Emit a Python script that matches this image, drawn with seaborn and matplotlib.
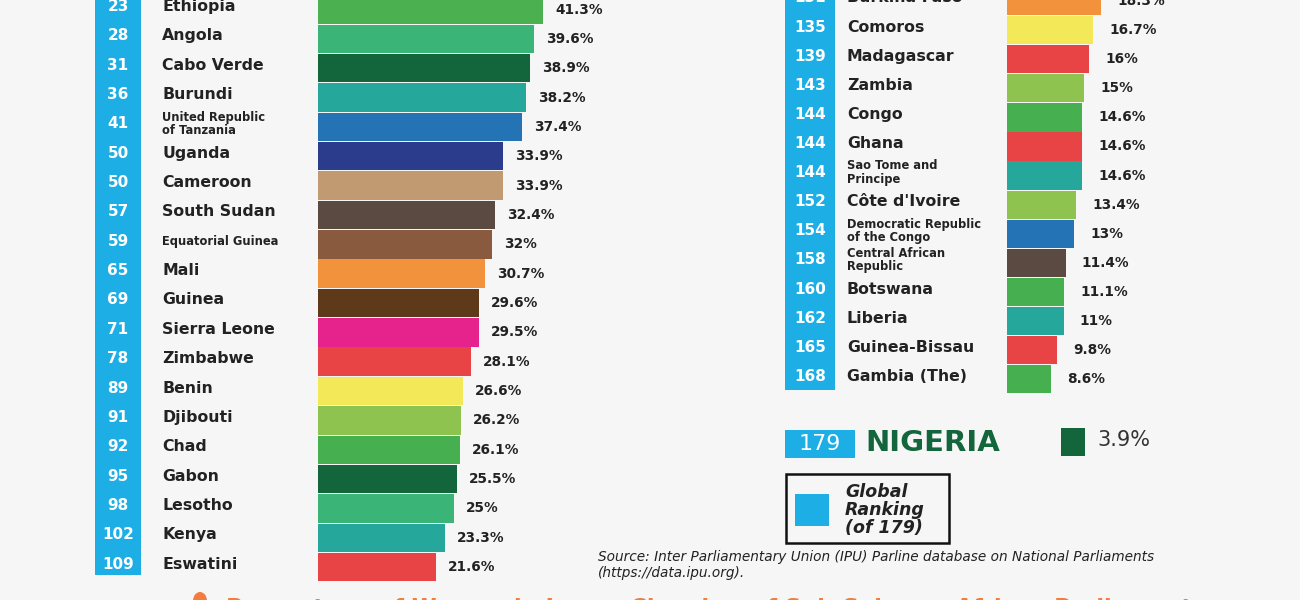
import matplotlib
matplotlib.use("Agg")
import matplotlib.pyplot as plt
import matplotlib.transforms as mtransforms
from matplotlib.patches import Rectangle, Ellipse
import pandas as pd
import seaborn as sns

# ---------------- data ----------------
left_countries = ["Ethiopia", "Angola", "Cabo Verde", "Burundi", "United Republic\nof Tanzania",
                  "Uganda", "Cameroon", "South Sudan", "Equatorial Guinea", "Mali", "Guinea",
                  "Sierra Leone", "Zimbabwe", "Benin", "Djibouti", "Chad", "Gabon", "Lesotho",
                  "Kenya", "Eswatini"]
left_ranks = [23, 28, 31, 36, 41, 50, 50, 57, 59, 65, 69, 71, 78, 89, 91, 92, 95, 98, 102, 109]
left_values = [41.3, 39.6, 38.9, 38.2, 37.4, 33.9, 33.9, 32.4, 32.0, 30.7, 29.6, 29.5, 28.1,
               26.6, 26.2, 26.1, 25.5, 25.0, 23.3, 21.6]
left_colors = ["#4ab050", "#3bb577", "#13653b", "#25a89b", "#2474b5", "#2c3c8c", "#c29a72",
               "#5a4a42", "#8a5a3e", "#f2923c", "#5e3a1a", "#e6228c", "#e84445", "#f3e958",
               "#8fc350", "#46af50", "#13653b", "#3bb577", "#25a89b", "#e84445"]

right_countries = ["Burkina Faso", "Comoros", "Madagascar", "Zambia", "Congo", "Ghana",
                   "Sao Tome and\nPrincipe", "Côte d'Ivoire", "Democratic Republic\nof the Congo",
                   "Central African\nRepublic", "Botswana", "Liberia", "Guinea-Bissau", "Gambia (The)"]
right_ranks = [131, 135, 139, 143, 144, 144, 144, 152, 154, 158, 160, 162, 165, 168]
right_values = [18.3, 16.7, 16.0, 15.0, 14.6, 14.6, 14.6, 13.4, 13.0, 11.4, 11.1, 11.0, 9.8, 8.6]
right_colors = ["#f2923c", "#f3e958", "#e84445", "#8fc350", "#46af50", "#e84445", "#25a89b",
                "#8fc350", "#2474b5", "#5a4a42", "#46af50", "#25a89b", "#e84445", "#46af50"]

nigeria_name = "NIGERIA"
nigeria_rank = 179
nigeria_value = 3.9
nigeria_color = "#13653b"

legend_text = "Global\nRanking\n(of 179)"
source_lines = ["Source: Inter Parliamentary Union (IPU) Parline database on National Parliaments",
                "(https://data.ipu.org)."]
title_text = "Percentage of Women in Lower Chamber of Sub-Saharan African Parliament"

# ---------------- style ----------------
sns.set_style("white")
plt.rcParams["font.family"] = ["DejaVu Sans"]

BG = "#f6f6f7"
BLUE = "#1eaee6"
DARK = "#222222"
ORANGE = "#f47c3c"
W, H = 1300, 600

fig = plt.figure(figsize=(13, 6), dpi=100, facecolor=BG)


def fx(x):
    return x / W


def fy(y):
    return 1 - y / H


def panel(countries, ranks, values, colors, x0, width, px_per_pct, c0, pitch,
          rank_x, name_x, strip, label_off):
    ax = fig.add_axes([fx(x0), 0, width / W, 1])
    ax.patch.set_alpha(0)
    df = pd.DataFrame({"country": countries, "value": values})
    sns.barplot(data=df, x="value", y="country", hue="country", order=countries,
                palette=dict(zip(countries, colors)), orient="h", width=0.97,
                saturation=1, linewidth=0, legend=False, ax=ax)
    ax.set_xlim(0, width / px_per_pct)
    ax.set_ylim((H - c0) / pitch, -c0 / pitch)
    ax.axis("off")
    # blue rank strip
    fig.patches.append(Rectangle((fx(strip[0]), fy(strip[2])), (strip[1] - strip[0]) / W,
                                 strip[2] / H, transform=fig.transFigure,
                                 facecolor=BLUE, edgecolor="none", zorder=-1))
    trans = mtransforms.blended_transform_factory(fig.transFigure, ax.transData)
    up = 3.0 / pitch
    for i, (c, r, v) in enumerate(zip(countries, ranks, values)):
        ax.text(fx(rank_x), i - up, str(r), transform=trans, ha="center", va="center",
                color="white", fontsize=11, fontweight="bold")
        small = len(c) > 14
        ax.text(fx(name_x), i - up, c, transform=trans, ha="left", va="center",
                color=DARK, fontsize=8.3 if small else 11.3, fontweight="bold",
                linespacing=1.05)
        ax.annotate(f"{v:g}%", xy=(v, i), xytext=(label_off, 0), textcoords="offset pixels",
                    ha="left", va="center", color=DARK, fontsize=9.8, fontweight="bold")
    return ax


panel(left_countries, left_ranks, left_values, left_colors, x0=318, width=330,
      px_per_pct=5.45, c0=9.5, pitch=29.35, rank_x=118, name_x=162,
      strip=(95, 141, 575), label_off=12)
panel(right_countries, right_ranks, right_values, right_colors, x0=1007, width=280,
      px_per_pct=5.15, c0=1.0, pitch=29.1, rank_x=810, name_x=847,
      strip=(785, 835, 390), label_off=16)

# ---------------- Nigeria row ----------------
fig.patches.append(Rectangle((fx(785), fy(458)), 70 / W, 28 / H, transform=fig.transFigure,
                             facecolor=BLUE, edgecolor="none", zorder=-1))
fig.text(fx(820), fy(444), str(nigeria_rank), ha="center", va="center", color="white",
         fontsize=16)
fig.text(fx(865), fy(443), nigeria_name, ha="left", va="center", color=nigeria_color,
         fontsize=21, fontweight="bold")
axn = fig.add_axes([fx(1061), fy(456), 120 / W, 28 / H])
axn.patch.set_alpha(0)
sns.barplot(x=[nigeria_value], y=[nigeria_name], color=nigeria_color, orient="h",
            width=1.0, saturation=1, linewidth=0, ax=axn)
axn.set_xlim(0, 120 / 6.15)
axn.set_ylim(0.5, -0.5)
axn.axis("off")
axn.annotate(f"{nigeria_value:g}%", xy=(nigeria_value, 0), xytext=(12, 2),
             textcoords="offset pixels", ha="left", va="center", color="#333333", fontsize=15)

# ---------------- legend box ----------------
fig.patches.append(Rectangle((fx(786), fy(543)), 163 / W, 69 / H, transform=fig.transFigure,
                             facecolor="none", edgecolor="#111111", linewidth=1.8))
fig.patches.append(Rectangle((fx(795), fy(526)), 34 / W, 32 / H, transform=fig.transFigure,
                             facecolor=BLUE, edgecolor="none"))
fig.text(fx(845), fy(510), legend_text, ha="left", va="center", color=DARK, fontsize=12.5,
         fontweight="bold", style="italic", linespacing=1.0)

# ---------------- source ----------------
fig.text(fx(598), fy(557), source_lines[0], ha="left", va="center", color=DARK, fontsize=9.8,
         style="italic")
fig.text(fx(598), fy(573), source_lines[1], ha="left", va="center", color=DARK, fontsize=9.8,
         style="italic")

# ---------------- bottom title (cropped) ----------------
fig.patches.append(Ellipse((fx(200), fy(601)), 14 / W, 18 / H, transform=fig.transFigure,
                           facecolor=ORANGE, edgecolor="none"))
fig.text(fx(226), fy(598), title_text, ha="left", va="top", color=ORANGE, fontsize=16.2,
         fontweight="bold")

fig.savefig("out.png", dpi=100, facecolor=BG)
